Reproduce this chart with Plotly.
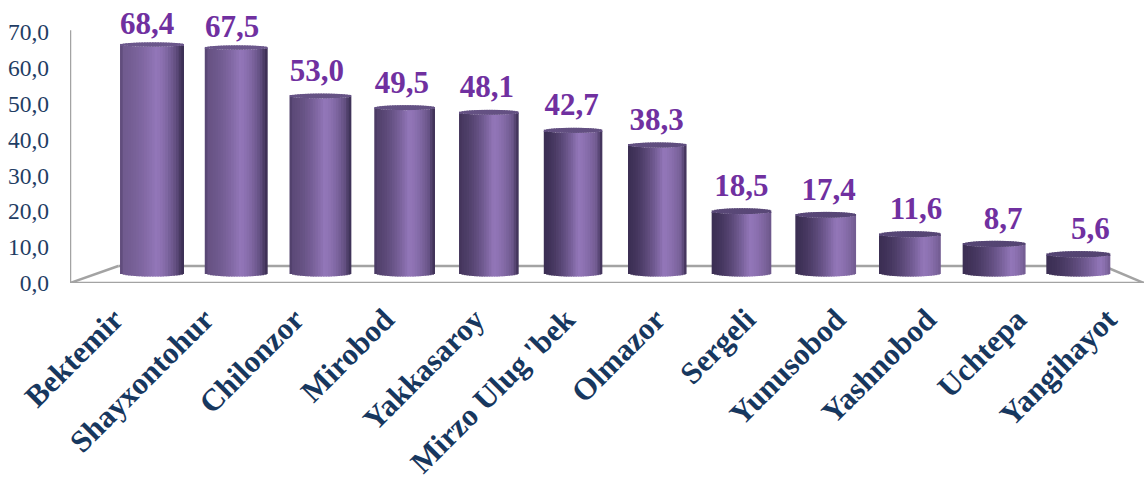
import math
import plotly.graph_objects as go

# values
districts = ["Bektemir", "Shayxontohur", "Chilonzor", "Mirobod", "Yakkasaroy", "Mirzo Ulug 'bek",
             "Olmazor", "Sergeli", "Yunusobod", "Yashnobod", "Uchtepa", "Yangihayot"]
values = [68.4, 67.5, 53.0, 49.5, 48.1, 42.7, 38.3, 18.5, 17.4, 11.6, 8.7, 5.6]
y_ticks = [0, 10, 20, 30, 40, 50, 60, 70]

# the source is a 3D chart, these constants project a value onto the flat axes
FLOOR = 2.8      # bar bottom centre, axis units
SCALE = 0.931    # axis units per value unit
STRIPS = 24      # vertical strips per cylinder, fakes the gradient

SEAM = 1.6       # strips overlap a little so no white hairlines show
GRID = "#a3a3a3"


def mix(c1, c2, t):
    t = max(0, min(1, t))
    return tuple(a + (b - a) * t for a, b in zip(c1, c2))


def css(c):
    return "rgb({:.0f},{:.0f},{:.0f})".format(*c)


DARK = (60, 47, 84)
MID = (112, 90, 142)
LIGHT = (146, 118, 184)


def shade(i, u):
    """Colour at u (-1 left edge, 1 right edge) of bar i. The light moves right along the chart."""
    pos = i / (len(values) - 1)
    peak = 0.12 + 0.55 * pos ** 3
    left = mix(MID, DARK, pos * 2.2)
    right = mix(DARK, MID, pos * 1.4)
    if u < peak:
        c = mix(left, LIGHT, ((u + 1) / (peak + 1)) ** 1.6)
    else:
        c = mix(LIGHT, right, ((u - peak) / (1 - peak)) ** 1.6)
    if pos < 0.6 and u > 0.82:
        c = mix(c, DARK, (u - 0.82) / 0.18)
    if u < -0.9:
        c = mix(c, DARK, 0.3)
    return c


def half_width(i):
    return (29 + 3 * abs(i - 5.5) / 5.5) / 84.2


def label_shift(i):
    # labels drift sideways with the perspective of the source chart
    return (0.7 if i < 7 else 3) * (i - 7) / 84.2


fig = go.Figure()
xs = list(range(len(values)))
tops = [FLOOR + SCALE * v for v in values]
rim_bottom = 1.0
rims = [0.6 + 0.3 * (1 - v / 70) for v in values]

for k in range(STRIPS):
    u0 = -1 + 2 * k / STRIPS
    u1 = u0 + 2 / STRIPS
    um = (u0 + u1) / 2
    arc = math.sqrt(1 - um ** 2)
    offsets = [u0 * half_width(i) for i in xs]
    widths = [(u1 - u0) * half_width(i) * (SEAM if k < STRIPS - 1 else 1) for i in xs]
    body_base = [FLOOR - rim_bottom * arc for i in xs]
    body_top = [tops[i] - rims[i] * arc for i in xs]
    cap_top = [tops[i] + rims[i] * arc for i in xs]
    fig.add_trace(go.Bar(
        x=xs, base=body_base, y=[t - b for t, b in zip(body_top, body_base)],
        offset=offsets, width=widths,
        marker=dict(color=[css(shade(i, um)) for i in xs], line=dict(width=0)),
        hoverinfo="skip", showlegend=False))
    fig.add_trace(go.Bar(
        x=xs, base=body_top, y=[t - b for t, b in zip(cap_top, body_top)],
        offset=offsets, width=widths,
        marker=dict(color=[css(mix((82, 66, 112), (108, 88, 140), values[i] / 70)) for i in xs],
                    line=dict(width=0)),
        hoverinfo="skip", showlegend=False))

fig.add_trace(go.Scatter(
    x=[i + label_shift(i) for i in xs],
    y=[t + (0.7 if v > 60 else 2.0) for t, v in zip(tops, values)],
    mode="text",
    text=["{:.1f}".format(v).replace(".", ",") for v in values],
    textposition="top center",
    textfont=dict(family="Liberation Serif", size=31, color="#7030a0", weight="bold"),
    cliponaxis=False, hoverinfo="skip", showlegend=False))

X0, X1 = -0.974, 11.78
BACK = 4.74     # floor back edge, axis units
wall = dict(type="line", layer="below", xref="x", yref="y", line=dict(color=GRID, width=2.5))
shapes = [
    dict(wall, x0=X0, x1=X1, y0=0, y1=0),
    dict(wall, x0=X0, x1=X0, y0=0, y1=70.5),
    dict(wall, x0=X0, x1=-0.4, y0=0, y1=BACK),
    dict(wall, x0=-0.4, x1=11.3, y0=BACK, y1=BACK),
    dict(wall, x0=11.3, x1=X1, y0=BACK, y1=0),
]

fig.update_layout(
    width=1144, height=479,
    autosize=False,
    margin=dict(l=70, r=0, t=0, b=196, autoexpand=False),
    barmode="overlay",
    separators=",.",
    paper_bgcolor="white",
    plot_bgcolor="white",
    shapes=shapes,
    xaxis=dict(
        range=[X0, X1], showgrid=False, zeroline=False, showline=False,
        # the category labels run a bit wider apart than the bars in the source
        tickmode="array", tickvals=[-0.45 + 1.0724 * i for i in xs], ticktext=districts,
        tickangle=-45, ticks="", ticklabelstandoff=11, automargin=False,
        tickfont=dict(family="Liberation Serif", size=31, color="#17375e", weight="bold"),
    ),
    yaxis=dict(
        range=[0, 78.9], showgrid=False, zeroline=False, showline=False,
        tickmode="array", tickvals=y_ticks, tickformat=".1f", ticks="",
        ticklabelstandoff=20, automargin=False,
        tickfont=dict(family="Liberation Serif", size=23.5, color="#1f3d64"),
    ),
)

# page body has a default margin that would push the chart off by 8px
fig.write_html("out.html", config=dict(displayModeBar=False),
               post_script="document.body.style.margin='0';")
